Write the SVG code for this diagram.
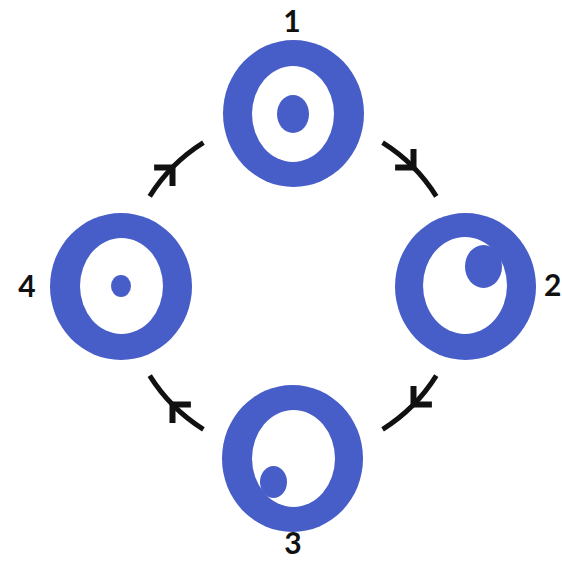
<svg xmlns="http://www.w3.org/2000/svg" width="562" height="561" viewBox="0 0 562 561">
  <style>
    .ring { fill: #475DC7; }
    .hole { fill: #FFFFFF; }
    .dot { fill: #475DC7; }
    .arc { fill: none; stroke: #111111; stroke-width: 5; stroke-linecap: butt; }
    .head { fill: none; stroke: #111111; stroke-width: 6; stroke-linecap: butt; stroke-linejoin: miter; stroke-miterlimit: 10; }
    .label { font-family: Lato, "Open Sans", "Liberation Sans", sans-serif; font-weight: 700; font-size: 30px; fill: #111111; }
  </style>
  <defs>
    <path id="arrowhead" class="head" d="M-13,-13 L0,0 L-13,13"/>
  </defs>
  <rect x="0" y="0" width="562" height="561" fill="#FFFFFF"/>

  <g id="connectors">
    <path class="arc" d="M382.6,142.7 A169,169 0 0 1 436.3,196.4"/>
    <use href="#arrowhead" transform="translate(413.5,167.5) rotate(45)"/>
    <path class="arc" d="M436.3,375.6 A169,169 0 0 1 382.6,429.3"/>
    <use href="#arrowhead" transform="translate(413.5,404.5) rotate(135)"/>
    <path class="arc" d="M203.4,429.3 A169,169 0 0 1 149.7,375.6"/>
    <use href="#arrowhead" transform="translate(172.5,404.5) rotate(225)"/>
    <path class="arc" d="M149.7,196.4 A169,169 0 0 1 203.4,142.7"/>
    <use href="#arrowhead" transform="translate(172.5,167.5) rotate(315)"/>
  </g>

  <g id="node1">
    <ellipse class="ring" cx="293.5" cy="113.5" rx="70.5" ry="73.5"/>
    <ellipse class="hole" cx="293" cy="114" rx="41" ry="48"/>
    <ellipse class="dot" cx="293" cy="114" rx="16" ry="19"/>
    <text class="label" x="292" y="31.5" text-anchor="middle">1</text>
  </g>

  <g id="node2">
    <ellipse class="ring" cx="465.5" cy="286.5" rx="70.5" ry="73.5"/>
    <ellipse class="hole" cx="465" cy="285.5" rx="42" ry="48.5"/>
    <ellipse class="dot" cx="483.5" cy="266.5" rx="18.5" ry="21.5"/>
    <text class="label" x="544" y="295.5">2</text>
  </g>

  <g id="node3">
    <ellipse class="ring" cx="292.5" cy="458.5" rx="70.5" ry="73.5"/>
    <ellipse class="hole" cx="293.5" cy="458.5" rx="41.5" ry="48.5"/>
    <ellipse class="dot" cx="273.5" cy="482" rx="13.5" ry="16"/>
    <text class="label" x="293" y="554" text-anchor="middle">3</text>
  </g>

  <g id="node4">
    <ellipse class="ring" cx="121" cy="286.5" rx="71" ry="73.5"/>
    <ellipse class="hole" cx="121.5" cy="286" rx="41.5" ry="48"/>
    <ellipse class="dot" cx="121" cy="286" rx="10" ry="11"/>
    <text class="label" x="27" y="296.5" text-anchor="middle">4</text>
  </g>
</svg>
